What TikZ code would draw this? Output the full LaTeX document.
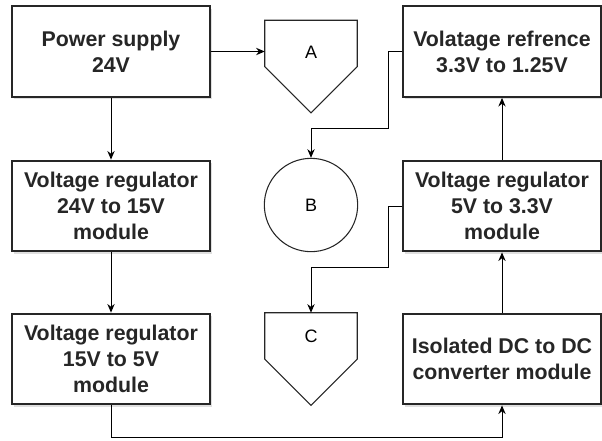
\documentclass[tikz,border=0pt]{standalone}
\usepackage{fontspec}
\setmainfont{Liberation Sans}
\usetikzlibrary{arrows.meta,shadows}
\tikzset{
  block/.style={draw=black!85,line width=1.6pt,fill=white,minimum width=148pt,minimum height=68pt,
    inner sep=2pt,align=center,font=\fontsize{16}{19.5}\selectfont\bfseries,text=black!85,
    drop shadow={shadow xshift=1.5pt,shadow yshift=-1.8pt,opacity=0.25}},
  offpage/.style={minimum width=69pt,minimum height=69pt,inner sep=0pt},
  pent/.style={draw=black!85,line width=0.8pt},
  circ/.style={circle,draw=black!85,line width=0.8pt,minimum size=70pt,inner sep=0pt,font=\fontsize{13.5}{15}\selectfont},
  letter/.style={font=\fontsize{13.5}{15}\selectfont,inner sep=0pt},
  link/.style={draw=black,line width=0.75pt,-{Stealth[length=6.5pt,width=5.5pt]}}
}
\begin{document}
\begin{tikzpicture}[x=0.75pt,y=-0.75pt]
  \useasboundingbox (0,0) rectangle (602,440);

  % left column
  \node[block] (power) at (111,51.5) {Power supply\\24V};
  \node[block] (reg15) at (111,206) {Voltage regulator\\24V to 15V\\module};
  \node[block] (reg5) at (111,359) {Voltage regulator\\15V to 5V\\module};

  % right column
  \node[block] (vref) at (502,51.5) {Volatage refrence\\3.3V to 1.25V};
  \node[block] (reg33) at (502,206) {Voltage regulator\\5V to 3.3V\\module};
  \node[block] (iso) at (502,359) {Isolated DC to DC\\converter module};

  % middle shapes
  \node[offpage] (A) at (311,66.5) {};
  \draw[pent] (A.north west) -- (A.north east) -- (A.east) -- (A.south) -- (A.west) -- cycle;
  \node[letter] (Alabel) at (311,52) {A};

  \node[circ] (B) at (311,205) {B};

  \node[offpage] (C) at (311,359) {};
  \draw[pent] (C.north west) -- (C.north east) -- (C.east) -- (C.south) -- (C.west) -- cycle;
  \node[letter] (Clabel) at (311,336) {C};

  % bends
  \coordinate (low) at (0,437);
  \coordinate (bendB) at (388,128);
  \coordinate (bendC) at (388,267);

  % connectors
  \draw[link] (power.east) -- (power.east -| A.west);
  \draw[link] (power) -- (reg15);
  \draw[link] (reg15) -- (reg5);
  \draw[link] (reg5.south) -- (reg5.south |- low) -| (iso.south);
  \draw[link] (iso) -- (reg33);
  \draw[link] (reg33) -- (vref);
  \draw[link] (vref.west) -| (bendB) -| (B.north);
  \draw[link] (reg33.west) -| (bendC) -| (C.north);
\end{tikzpicture}
\end{document}
